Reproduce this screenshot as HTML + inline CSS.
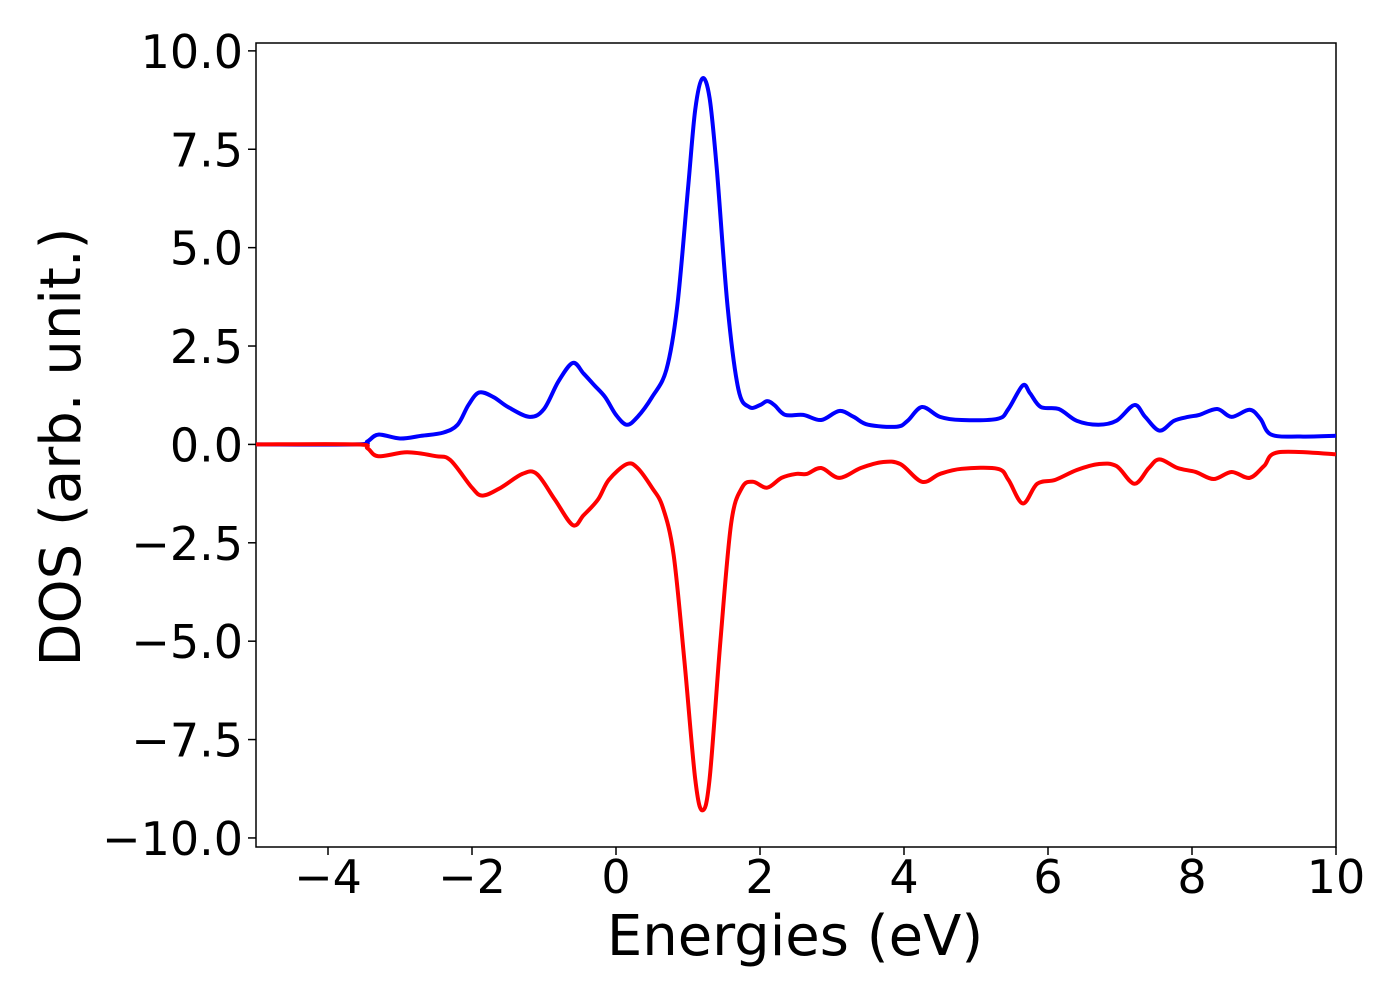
<!DOCTYPE html>
<html><head><meta charset="utf-8"><style>
body{margin:0;background:#fff;}
svg text{font-family:"DejaVu Sans","Liberation Sans",sans-serif;fill:#000;}
</style></head><body>
<svg id="chart" width="1400" height="1000" xmlns="http://www.w3.org/2000/svg">
<g id="axes"></g>
<g id="series"></g>
<text x="795" y="955" font-size="56" text-anchor="middle">Energies (eV)</text>
<text transform="translate(80,447) rotate(-90)" font-size="56" text-anchor="middle">DOS (arb. unit.)</text>
</svg>
<script>
const xTicks=[-4,-2,0,2,4,6,8,10];
const xTickLabels=["\u22124","\u22122","0","2","4","6","8","10"];
const yTicks=[-10,-7.5,-5,-2.5,0,2.5,5,7.5,10];
const yTickLabels=["\u221210.0","\u22127.5","\u22125.0","\u22122.5","0.0","2.5","5.0","7.5","10.0"];
const upE=[-5,-3.6,-3.45,-3.3,-3.0,-2.7,-2.4,-2.2,-2.05,-1.9,-1.7,-1.5,-1.2,-1.0,-0.8,-0.6,-0.45,-0.3,-0.15,0,0.15,0.3,0.5,0.7,0.85,1.0,1.1,1.2,1.3,1.4,1.55,1.7,1.85,2.0,2.1,2.2,2.35,2.6,2.85,3.1,3.3,3.5,3.9,4.05,4.25,4.5,4.8,5.3,5.45,5.65,5.75,5.9,6.15,6.4,6.7,6.95,7.2,7.35,7.55,7.75,7.95,8.1,8.35,8.55,8.8,8.95,9.1,9.5,10];
const upDOS=[0,0,0.08,0.25,0.15,0.22,0.3,0.5,1.0,1.32,1.2,0.95,0.7,0.9,1.6,2.07,1.8,1.5,1.2,0.75,0.5,0.7,1.2,1.9,3.5,6.5,8.5,9.3,8.8,7,3.5,1.4,0.95,1.0,1.1,1.0,0.75,0.75,0.62,0.85,0.7,0.5,0.45,0.6,0.95,0.7,0.62,0.65,0.9,1.5,1.3,0.95,0.9,0.6,0.5,0.6,1.0,0.7,0.35,0.6,0.7,0.75,0.9,0.7,0.88,0.65,0.25,0.2,0.22];
const dnE=[-5,-3.6,-3.45,-3.3,-2.9,-2.5,-2.3,-2.0,-1.85,-1.6,-1.3,-1.1,-0.85,-0.6,-0.45,-0.25,-0.1,0.15,0.3,0.5,0.65,0.8,0.95,1.1,1.2,1.3,1.45,1.6,1.75,1.9,2.1,2.3,2.5,2.65,2.85,3.1,3.4,3.7,3.95,4.25,4.5,4.8,5.3,5.45,5.65,5.85,6.1,6.4,6.7,6.95,7.2,7.4,7.55,7.8,8.05,8.3,8.55,8.8,9.0,9.2,10];
const dnDOS=[0,0,-0.1,-0.3,-0.2,-0.3,-0.4,-1.1,-1.3,-1.1,-0.75,-0.75,-1.4,-2.05,-1.8,-1.4,-0.9,-0.5,-0.6,-1.1,-1.6,-2.8,-5.5,-8.5,-9.3,-8.5,-5,-2,-1.1,-0.95,-1.1,-0.85,-0.75,-0.75,-0.6,-0.85,-0.6,-0.45,-0.5,-0.95,-0.75,-0.62,-0.62,-0.9,-1.5,-1.0,-0.9,-0.65,-0.5,-0.55,-1.0,-0.6,-0.38,-0.6,-0.7,-0.88,-0.7,-0.85,-0.55,-0.2,-0.25];
const L=256,R=1336,T=43,B=847,xmin=-5,xmax=10,ymin=-10.23,ymax=10.2;
const sx=v=>L+(v-xmin)/(xmax-xmin)*(R-L);
const sy=v=>B-(v-ymin)/(ymax-ymin)*(B-T);
const NS="http://www.w3.org/2000/svg";
const axes=document.getElementById('axes'),ser=document.getElementById('series');
function mk(tag,attrs,parent){const e=document.createElementNS(NS,tag);for(const k in attrs)e.setAttribute(k,attrs[k]);parent.appendChild(e);return e;}
xTicks.forEach((t,i)=>{
 const l=mk('line',{x1:sx(t),x2:sx(t),y1:B,y2:B+8,stroke:'#000','stroke-width':1.5},axes);
 
 
 const tx=mk('text',{x:sx(t),y:B+46,'font-size':46,'text-anchor':'middle'},axes);tx.textContent=xTickLabels[i];
 
 
});
yTicks.forEach((t,i)=>{
 const l=mk('line',{x1:L-8,x2:L,y1:sy(t),y2:sy(t),stroke:'#000','stroke-width':1.5},axes);
 
 
 const tx=mk('text',{x:L-13,y:sy(t)+17,'font-size':46,'text-anchor':'end'},axes);tx.textContent=yTickLabels[i];
 
 
});
function path(E,D){
 const p=E.map((e,i)=>[sx(e),sy(D[i])]);let d='M'+p[0][0]+','+p[0][1];
 for(let i=0;i<p.length-1;i++){const p0=p[Math.max(0,i-1)],p1=p[i],p2=p[i+1],p3=p[Math.min(p.length-1,i+2)];
  const c1=[p1[0]+(p2[0]-p0[0])/6,p1[1]+(p2[1]-p0[1])/6],c2=[p2[0]-(p3[0]-p1[0])/6,p2[1]-(p3[1]-p1[1])/6];
  d+=' C'+c1+' '+c2+' '+p2;}
 return d;}
const up=mk('path',{d:path(upE,upDOS),fill:'none',stroke:'#0000ff','stroke-width':4},ser);


const dn=mk('path',{d:path(dnE,dnDOS),fill:'none',stroke:'#ff0000','stroke-width':4},ser);


const fr=mk('rect',{x:L,y:T,width:R-L,height:B-T,fill:'none',stroke:'#000','stroke-width':1.5},axes);


</script>
</body></html>
